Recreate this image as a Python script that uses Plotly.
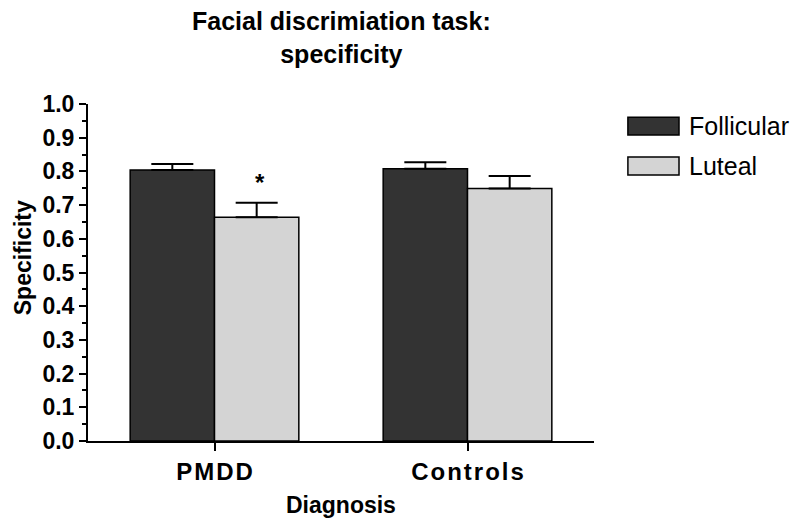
"""Facial discrimination task: specificity, grouped bar chart."""

import plotly.graph_objects as go

groups = ["PMDD", "Controls"]
group_labels = ["P\u200aM\u200aD\u200aD", "C\u200ao\u200an\u200at\u200ar\u200ao\u200al\u200as"]
follicular = [0.804, 0.808]
follicular_err = [0.018, 0.019]
luteal = [0.664, 0.749]
luteal_err = [0.043, 0.037]
y_ticks = [0.0, 0.1, 0.2, 0.3, 0.4, 0.5, 0.6, 0.7, 0.8, 0.9, 1.0]

FONT = "Liberation Sans, Arial, sans-serif"
DARK = "#333333"
LIGHT = "#d4d4d4"

fig = go.Figure()
fig.add_trace(go.Bar(
    x=groups, y=follicular, name="Follicular",
    marker=dict(color=DARK, line=dict(color="black", width=1.5)),
    error_y=dict(type="data", array=follicular_err, symmetric=False, arrayminus=[0, 0],
                 color="black", thickness=2, width=21),
))
fig.add_trace(go.Bar(
    x=groups, y=luteal, name="Luteal",
    marker=dict(color=LIGHT, line=dict(color="black", width=1.5)),
    error_y=dict(type="data", array=luteal_err, symmetric=False, arrayminus=[0, 0],
                 color="black", thickness=2, width=21),
))

# significance marker over PMDD luteal bar
fig.add_annotation(x="PMDD", y=0.766, text="<b>*</b>", showarrow=False, xshift=45,
                   font=dict(family=FONT, size=24, color="black"))

# title
fig.add_annotation(xref="paper", yref="paper", x=0.5, y=1.295, xanchor="center", yanchor="top",
                   text="<b>Facial discrimiation task:<br>specificity</b>", showarrow=False,
                   font=dict(family=FONT, size=25, color="black"))

# axis titles placed by hand
fig.add_annotation(xref="paper", yref="paper", x=-0.128, y=0.543, xanchor="center", yanchor="middle",
                   text="<b>Specificity</b>", textangle=-90, showarrow=False,
                   font=dict(family=FONT, size=23, color="black"))
fig.add_annotation(xref="paper", yref="paper", x=0.5, y=-0.19, xanchor="center", yanchor="middle",
                   text="<b>Diagnosis</b>", showarrow=False,
                   font=dict(family=FONT, size=23, color="black"))

# hand-drawn legend with wide swatches
legend_items = [("Follicular", DARK, 0.961, 0.908), ("Luteal", LIGHT, 0.843, 0.789)]
for name, col, y1, y0 in legend_items:
    fig.add_shape(type="rect", xref="paper", yref="paper", x0=1.067, x1=1.168, y0=y0, y1=y1,
                  fillcolor=col, line=dict(color="black", width=1.5))
    fig.add_annotation(xref="paper", yref="paper", x=1.184, y=(y0 + y1) / 2,
                       xanchor="left", yanchor="middle",
                       text=name, showarrow=False, font=dict(family=FONT, size=25, color="black"))

# page body has an 8px margin, so the figure is sized to fill the rest of the window
fig.update_layout(
    width=792, height=522,
    margin=dict(l=80, r=206, t=96, b=89),
    paper_bgcolor="white", plot_bgcolor="white",
    barmode="group", bargap=1 / 3, bargroupgap=0,
    showlegend=False,
    font=dict(family=FONT, color="black"),
)
fig.update_xaxes(
    range=[-0.5, 1.5], tickvals=groups, ticktext=["<b>%s</b>" % t for t in group_labels],
    tickfont=dict(size=24), ticks="outside", ticklen=8, tickwidth=2, tickcolor="black",
    showline=True, linecolor="black", linewidth=2, showgrid=False, zeroline=False,
)
fig.update_yaxes(
    range=[0, 1.0], tickvals=y_ticks, ticktext=["<b>%.1f</b>" % v for v in y_ticks],
    tickfont=dict(size=23), ticks="outside", ticklen=7, tickwidth=2, tickcolor="black",
    minor=dict(dtick=0.05, ticks="outside", ticklen=4, tickwidth=1.5, tickcolor="black", showgrid=False),
    showline=True, linecolor="black", linewidth=2, showgrid=False, zeroline=False,
)

fig.write_html("out.html")
